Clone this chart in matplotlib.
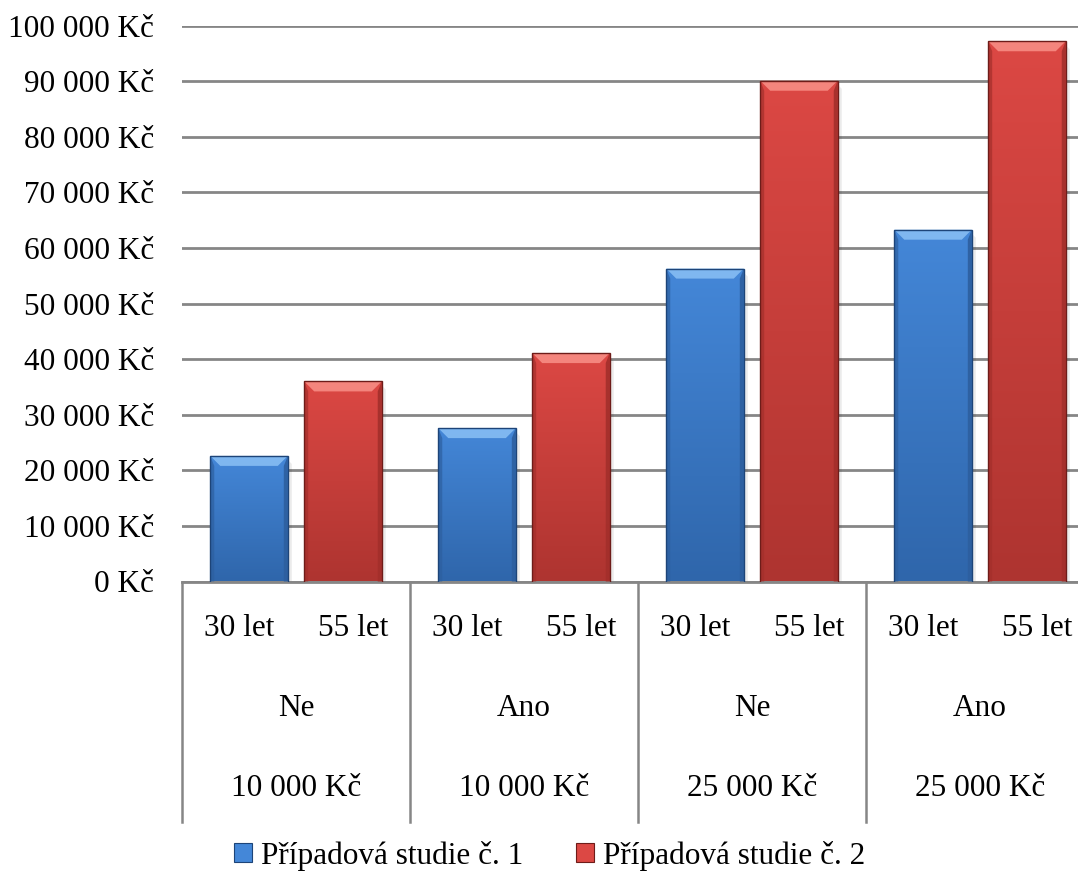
import numpy as np
import matplotlib
matplotlib.use("Agg")
import matplotlib.pyplot as plt
from matplotlib.colors import LinearSegmentedColormap
from matplotlib.patches import Polygon, Patch
from matplotlib.ticker import FuncFormatter, MultipleLocator

plt.rcParams['font.family'] = ['Liberation Serif', 'DejaVu Serif']

# Kategorie osy x (tři úrovně) a hodnoty obou případových studií
vek = ["30 let", "55 let"]
pojisteni = ["Ne", "Ano", "Ne", "Ano"]
prijem = ["10 000 Kč", "10 000 Kč", "25 000 Kč", "25 000 Kč"]
studie_1 = [22600, 27600, 56300, 63300]
studie_2 = [36000, 41100, 90100, 97200]
nazvy_serii = ["Případová studie č. 1", "Případová studie č. 2"]

# barvy: (horní, spodní, zkosení nahoře, boky, obrys)
barvy = [
    ("#4487d8", "#2f66ab", "#86bdf3", "#2d5f9f", "#1d4478"),
    ("#dc4844", "#ae3430", "#f78c84", "#a32f2b", "#6e1c19"),
]
seda = "#868686"
velikost = 22.5

fig = plt.figure(figsize=(10.78, 8.76), dpi=100)
ax = fig.add_axes([182 / 1078, (876 - 581.5) / 876, 912 / 1078, 555.8 / 876])

x = np.arange(len(pojisteni))
sirka = 0.34
posun = 0.206

ax.set_xlim(-0.5, len(pojisteni) - 0.5)
ax.set_ylim(0, 100000)
ax.yaxis.set_major_locator(MultipleLocator(10000))
ax.yaxis.set_major_formatter(FuncFormatter(lambda v, p: f"{int(v):,}".replace(",", " ") + " Kč"))
ax.tick_params(axis='y', length=0, pad=20, labelsize=velikost)
ax.tick_params(axis='x', length=0, labelbottom=False)
ax.grid(axis='y', color=seda, lw=2.0)
ax.set_axisbelow(True)
for s in ["top", "right", "left"]:
    ax.spines[s].set_visible(False)
ax.spines["bottom"].set_color(seda)
ax.spines["bottom"].set_linewidth(2.0)

# přepočet pixelů na jednotky dat kvůli zkosení sloupců
p0 = ax.transData.transform((0, 0))
p1 = ax.transData.transform((1, 10000))
px_x = p1[0] - p0[0]
px_y = (p1[1] - p0[1]) / 10000

sloupce = []
for i, hodnoty in enumerate([studie_1, studie_2]):
    b = ax.bar(x + (2 * i - 1) * posun, hodnoty, sirka, color="none", zorder=2)
    sloupce.append((b, barvy[i]))

for b, (horni, spodni, svetla, bok, obrys) in sloupce:
    cmap = LinearSegmentedColormap.from_list("g", [spodni, horni])
    grad = np.linspace(0, 1, 256).reshape(-1, 1)
    for r in b:
        x0, w, h = r.get_x(), r.get_width(), r.get_height()
        # jemný stín vpravo od sloupce
        ax.add_patch(Polygon([(x0 + w, 0), (x0 + w, h - 4 / px_y),
                              (x0 + w + 4 / px_x, h - 8 / px_y), (x0 + w + 4 / px_x, 0)],
                             closed=True, fc="#000000", ec="none", alpha=0.08, zorder=1.9))
        im = ax.imshow(grad, cmap=cmap, origin="lower", aspect="auto",
                       extent=(x0, x0 + w, 0, h), zorder=2)
        im.set_clip_path(r)
        dx = 10 / px_x
        dy = 10 / px_y
        sx = 4 / px_x
        ax.add_patch(Polygon([(x0, 0), (x0, h), (x0 + sx, h - dy), (x0 + sx, 0)],
                             closed=True, fc=bok, ec="none", alpha=0.7, zorder=3))
        ax.add_patch(Polygon([(x0 + w, 0), (x0 + w, h), (x0 + w - sx, h - dy), (x0 + w - sx, 0)],
                             closed=True, fc=bok, ec="none", alpha=0.9, zorder=3))
        ax.add_patch(Polygon([(x0, h), (x0 + w, h), (x0 + w - dx, h - dy), (x0 + dx, h - dy)],
                             closed=True, fc=svetla, ec="none", alpha=0.9, zorder=3))
        ax.add_patch(Polygon([(x0, 0), (x0, h), (x0 + w, h), (x0 + w, 0)],
                             closed=False, fc="none", ec=obrys, lw=1.0, zorder=4))

ax.set_xlim(-0.5, len(pojisteni) - 0.5)
ax.set_ylim(0, 100000)

# víceúrovňové popisky osy x
trans = ax.get_xaxis_transform()
for g in x:
    for j, v in enumerate(vek):
        ax.text(g + (j - 0.5) * 0.5, -0.0837, v, transform=trans, ha="center",
                va="center", fontsize=velikost, clip_on=False)
    ax.text(g, -0.2276, pojisteni[g], transform=trans, ha="center", va="center",
            fontsize=velikost, clip_on=False)
    ax.text(g, -0.3733, prijem[g], transform=trans, ha="center", va="center",
            fontsize=velikost, clip_on=False)
    ax.plot([g - 0.5, g - 0.5], [0, -0.4327], transform=trans, color=seda,
            lw=1.8, clip_on=False)

handles = [Patch(facecolor=barvy[i][0], edgecolor=barvy[i][4], lw=0.8, label=nazvy_serii[i])
           for i in range(2)]
fig.legend(handles=handles, loc="center", bbox_to_anchor=(0.51, 0.023), ncol=2,
           frameon=False, fontsize=velikost, handlelength=0.55, handleheight=0.55,
           handletextpad=0.3, columnspacing=1.7, borderaxespad=0, borderpad=0)

fig.savefig("out.png", dpi=100)
